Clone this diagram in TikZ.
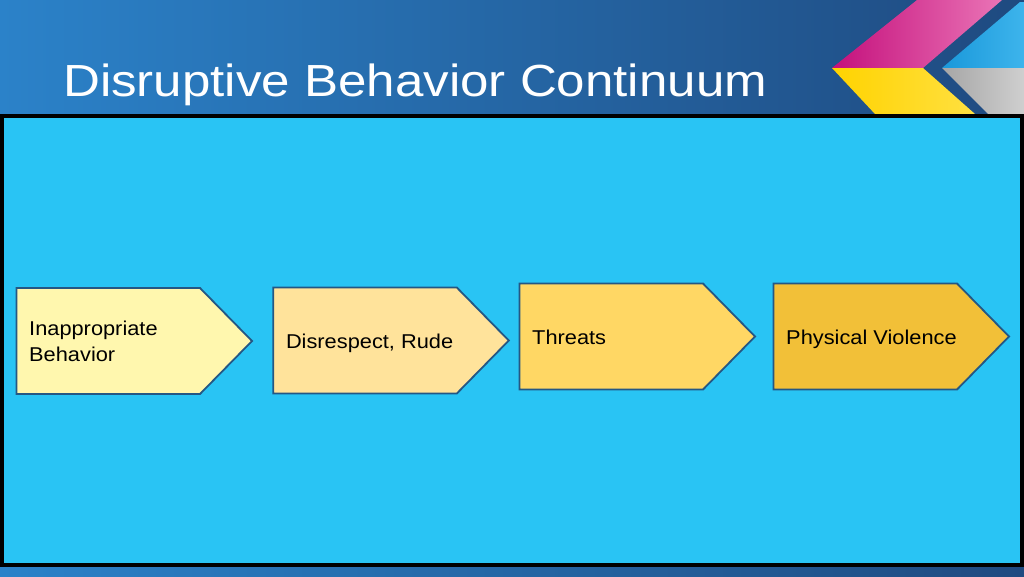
\documentclass[tikz,border=0pt]{standalone}
\usepackage{fontspec}
\setmainfont{Liberation Sans}
\newfontfamily\titlefont[FakeStretch=1.135]{Liberation Sans}
\newfontfamily\stagefont[FakeStretch=1.09]{Liberation Sans}
\usetikzlibrary{calc}
\definecolor{bgleft}{HTML}{2B82C9}
\definecolor{bgright}{HTML}{1F4A80}
\definecolor{panel}{HTML}{29C4F4}
\definecolor{edge}{HTML}{245784}
\definecolor{stageA}{HTML}{FFF7AE}
\definecolor{stageB}{HTML}{FFE39B}
\definecolor{stageC}{HTML}{FFD764}
\definecolor{stageD}{HTML}{F2C038}
\definecolor{logoM}{HTML}{C4107C}
\definecolor{logoMl}{HTML}{EA74B6}
\definecolor{logoY}{HTML}{FFD300}
\definecolor{logoYl}{HTML}{FFE040}
\definecolor{logoB}{HTML}{1A98DA}
\definecolor{logoBl}{HTML}{3DB4EC}
\definecolor{logoG}{HTML}{A6A6A6}
\definecolor{logoGl}{HTML}{CFCFCF}
\newcommand*{\bw }{235.5}
\newcommand*{\bh }{106}
\newcommand*{\tip}{52}
\newcommand*{\ins}{12.5}
\newcommand*{\dy }{7.8}

\begin{document}
\begin{tikzpicture}[x=1pt, y=-1pt, font=\stagefont\fontsize{20}{26.7}\selectfont,
    stage/.style={draw=edge, line width=1.8pt, line join=miter},
    stagetext/.style={anchor=base west, inner sep=0pt, align=left, text=black}]
    \useasboundingbox (0,0) rectangle (1024,576);
    \shade [left color=bgleft, right color=bgright] (0,0) rectangle (1024,576);
    % logo
    \shade [left color=logoM, right color=logoMl] (832,68) -- (917,0) -- (1002,0) -- (923,68) -- cycle;
    \shade [left color=logoY, right color=logoYl] (832,68) -- (923,68) -- (975,114) -- (875,114) -- cycle;
    \shade [left color=logoB, right color=logoBl] (942,68) -- (1020,2) -- (1024,2) -- (1024,68) -- cycle;
    \shade [left color=logoG, right color=logoGl] (942,68) -- (1024,68) -- (1024,114) -- (988,114) -- cycle;
    \node [anchor=base west, inner sep=0pt, text=white, font=\titlefont\fontsize{45}{54}\selectfont] (title) at (63,96.7) {Disruptive Behavior Continuum};
    % panel
    \draw [fill=panel, draw=black, line width=4pt] (2,116) rectangle (1021.5,565);
    % stages
    \draw [stage, fill=stageA] (16.5,288)   -- ++(\bw-\tip,0) -- ++(\tip,\bh/2) -- ++(-\tip,\bh/2) -- ++(\tip-\bw,0) -- cycle;
    \draw [stage, fill=stageB] (273.3,287.5) -- ++(\bw-\tip,0) -- ++(\tip,\bh/2) -- ++(-\tip,\bh/2) -- ++(\tip-\bw,0) -- cycle;
    \draw [stage, fill=stageC] (519.5,283.5) -- ++(\bw-\tip,0) -- ++(\tip,\bh/2) -- ++(-\tip,\bh/2) -- ++(\tip-\bw,0) -- cycle;
    \draw [stage, fill=stageD] (773.5,283.5) -- ++(\bw-\tip,0) -- ++(\tip,\bh/2) -- ++(-\tip,\bh/2) -- ++(\tip-\bw,0) -- cycle;
    \node [stagetext] (inappropriate) at (16.5+\ins,361.7)     {Inappropriate\\Behavior};
    \node [stagetext] (disrespect)    at (273.3+\ins,340.5+\dy) {Disrespect, Rude};
    \node [stagetext] (threats)       at (519.5+\ins,336.5+\dy) {Threats};
    \node [stagetext] (violence)      at (773.5+\ins,336.5+\dy) {Physical Violence};
\end{tikzpicture}
\end{document}
